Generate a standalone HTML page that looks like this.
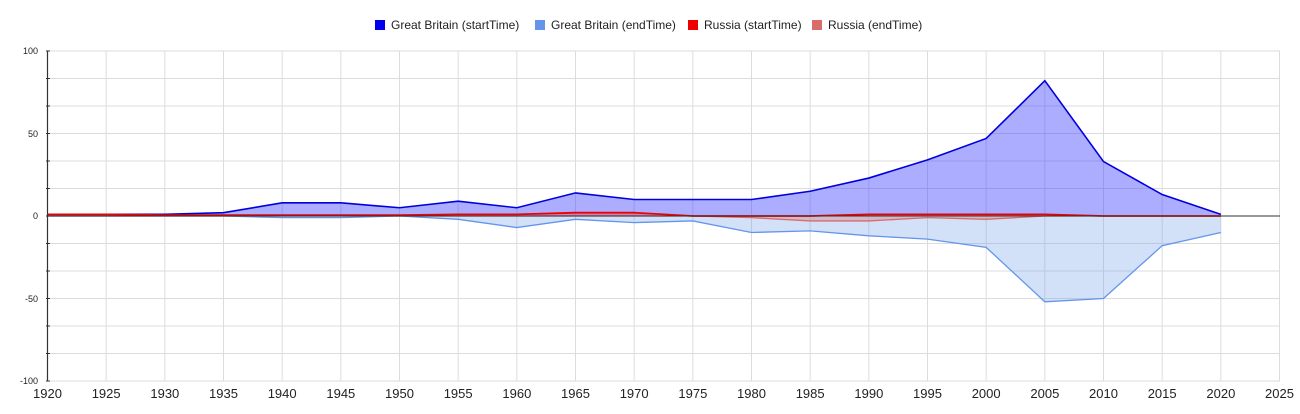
<!DOCTYPE html>
<html><head><meta charset="utf-8"><style>
body{margin:0;background:#fff;}
svg{display:block;font-family:"Liberation Sans",Arial,sans-serif;}
</style></head><body>
<svg width="1300" height="414" viewBox="0 0 1300 414">
<g font-size="12" fill="#222">
<rect x="375" y="20" width="10" height="10" fill="#0000ee"/><text x="391" y="29">Great Britain (startTime)</text>
<rect x="535" y="20" width="10" height="10" fill="#6495ed"/><text x="551" y="29">Great Britain (endTime)</text>
<rect x="688" y="20" width="10" height="10" fill="#ee0000"/><text x="704" y="29">Russia (startTime)</text>
<rect x="812" y="20" width="10" height="10" fill="#d96b6b"/><text x="828" y="29">Russia (endTime)</text>
</g>
<g id="grid" stroke="#dcdcdc" stroke-width="1"></g>
<g id="series"></g>
<line x1="47.5" y1="51" x2="47.5" y2="381" stroke="#333" stroke-width="1.2"/>
<g id="ticks" stroke="#333"></g>
<g id="ylab" font-size="9" fill="#222" text-anchor="end">
<text x="38" y="54">100</text><text x="38" y="137">50</text><text x="38" y="219">0</text><text x="38" y="302">-50</text><text x="38" y="384">-100</text>
</g>
<g id="xlab" font-size="13" fill="#222" text-anchor="middle"></g>
<script>
var X0=47.5,XS=58.667/5,Y0=216,YS=1.65;
function px(y){return X0+(y-1920)*XS}function py(v){return Y0-v*YS}
var g=document.getElementById('grid'),t=document.getElementById('ticks'),xl=document.getElementById('xlab'),ns='http://www.w3.org/2000/svg';
function el(p,n,a){var e=document.createElementNS(ns,n);for(var k in a)e.setAttribute(k,a[k]);p.appendChild(e);return e}
for(var y=1920;y<=2025;y+=5){if(y>1920)el(g,'line',{x1:px(y),y1:51,x2:px(y),y2:381});var tx=el(xl,'text',{x:px(y),y:398});tx.textContent=y;}
for(var i=0;i<=12;i++){var yy=51+i*27.5;el(g,'line',{x1:47.5,y1:yy,x2:1280,y2:yy});el(t,'line',{x1:46,y1:yy,x2:50,y2:yy});}
var yrs=[];for(var y=1920;y<=2020;y+=5)yrs.push(y);
var gbs=[1,1,1,2,8,8,5,9,5,14,10,10,10,15,23,34,47,82,33,13,1];
var gbe=[0,0,0,0,-1,-1,0,-2,-7,-2,-4,-3,-10,-9,-12,-14,-19,-52,-50,-18,-10];
var rs=[1,1,0.5,0.5,0.5,0.5,0.5,1,1,2,2,0,0,0,1,1,1,1,0,0,0];
var re=[0,0,0,0,0,0,0,0,0,0,0,0,-1,-3,-3,-1,-2,0,0,0,0];
var s=document.getElementById('series');
function area(d,fill,stroke,sw){var pts=d.map(function(v,i){return px(yrs[i])+','+py(v)}).join(' ');
el(s,'polygon',{points:px(1920)+','+Y0+' '+pts+' '+px(2020)+','+Y0,fill:fill});
return pts;}
var p1=area(gbs,'rgba(60,60,255,0.42)');
var p2=area(gbe,'rgba(120,165,235,0.33)');
var p3=area(rs,'rgba(255,60,60,0.35)');
var p4=area(re,'rgba(220,110,110,0.35)');
el(s,'polyline',{points:p2,fill:'none',stroke:'#6495ed',"stroke-width":1.3});
el(s,'polyline',{points:p1,fill:'none',stroke:'#0000dd',"stroke-width":1.6});
el(s,'polyline',{points:p4,fill:'none',stroke:'#d96b6b',"stroke-width":1.3});
el(s,'polyline',{points:p3,fill:'none',stroke:'#ee0000',"stroke-width":1.8});
el(s,'line',{x1:47.5,y1:Y0,x2:1280,y2:Y0,stroke:'#333',"stroke-width":1});
</script>
</svg>
</body></html>
